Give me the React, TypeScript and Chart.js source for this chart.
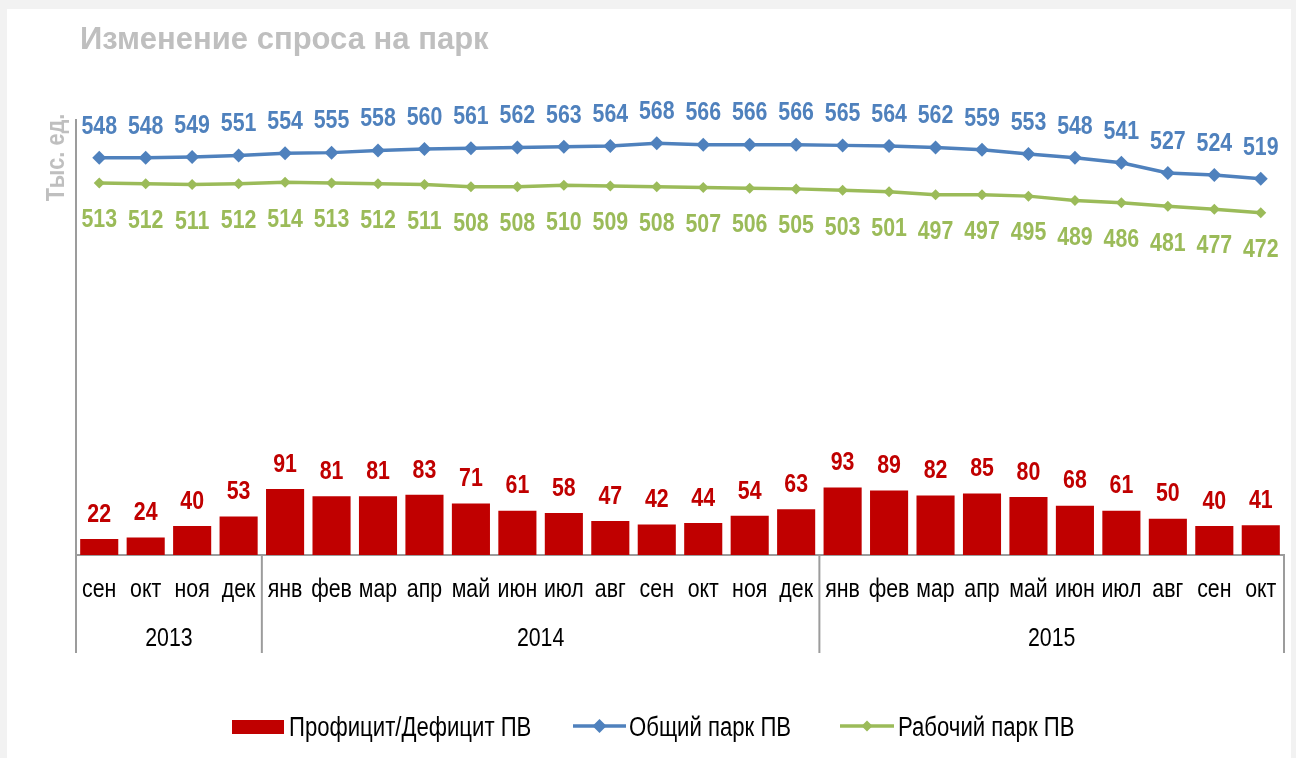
import React, { useEffect, useRef } from "react";
import { Chart, registerables } from "chart.js";

Chart.register(...registerables);

// ---------- data ----------
const months = [
  "сен", "окт", "ноя", "дек",
  "янв", "фев", "мар", "апр", "май", "июн", "июл", "авг", "сен", "окт", "ноя", "дек",
  "янв", "фев", "мар", "апр", "май", "июн", "июл", "авг", "сен", "окт",
];
const years = ["2013", "2014", "2015"];
const yearMonthCounts = [4, 12, 10];
const surplus = [22, 24, 40, 53, 91, 81, 81, 83, 71, 61, 58, 47, 42, 44, 54, 63, 93, 89, 82, 85, 80, 68, 61, 50, 40, 41];
const totalFleet = [548, 548, 549, 551, 554, 555, 558, 560, 561, 562, 563, 564, 568, 566, 566, 566, 565, 564, 562, 559, 553, 548, 541, 527, 524, 519];
const workingFleet = [513, 512, 511, 512, 514, 513, 512, 511, 508, 508, 510, 509, 508, 507, 506, 505, 503, 501, 497, 497, 495, 489, 486, 481, 477, 472];
const seriesNames = ["Профицит/Дефицит ПВ", "Общий парк ПВ", "Рабочий парк ПВ"];
const titleText = "Изменение спроса на парк";
const yAxisLabel = "Тыс. ед.";
const yMin = 0;
const yMax = 600;

// ---------- styles ----------
const SANS = "'Liberation Sans', Arial, sans-serif";
const NARROW_SCALE = 0.82;
const RED = "#C00000";
const BLUE = "#4F81BD";
const GREEN = "#9BBB59";
const AXIS = "#9C9C9C";
const TITLE_GREY = "#BFBFBF";

const W = 1296;
const H = 758;

// draws text in an Arial-Narrow-like face (Liberation Sans condensed horizontally)
function ntext(
  ctx: CanvasRenderingContext2D,
  str: string,
  x: number,
  y: number,
  size: number,
  bold: boolean,
  align: CanvasTextAlign,
  color: string
) {
  ctx.save();
  ctx.translate(x, y);
  ctx.scale(NARROW_SCALE, 1);
  ctx.font = `${bold ? "bold " : ""}${size}px ${SANS}`;
  ctx.textAlign = align;
  ctx.textBaseline = "alphabetic";
  ctx.fillStyle = color;
  ctx.fillText(str, 0, 0);
  ctx.restore();
}

const bgPlugin = {
  id: "bgPanel",
  beforeDraw(chart: any) {
    const ctx = chart.ctx;
    ctx.save();
    ctx.fillStyle = "#F2F2F2";
    ctx.fillRect(0, 0, W, H);
    ctx.fillStyle = "#FFFFFF";
    ctx.fillRect(7, 9, 1284, H - 9);
    ctx.restore();
  },
};

function drawDiamond(ctx: CanvasRenderingContext2D, x: number, y: number, r: number, color: string) {
  ctx.beginPath();
  ctx.moveTo(x, y - r);
  ctx.lineTo(x + r, y);
  ctx.lineTo(x, y + r);
  ctx.lineTo(x - r, y);
  ctx.closePath();
  ctx.fillStyle = color;
  ctx.fill();
}

const decorPlugin = {
  id: "decor",
  afterDraw(chart: any) {
    const ctx: CanvasRenderingContext2D = chart.ctx;
    const area = chart.chartArea;
    const xs = chart.scales.x;
    ctx.save();

    // data labels
    const capHalf = 26 * 0.358;
    const specs = [
      { idx: 0, color: RED, dy: -26.6 },
      { idx: 1, color: BLUE, dy: -33.5 },
      { idx: 2, color: GREEN, dy: 35 },
    ];
    specs.forEach((s) => {
      const meta = chart.getDatasetMeta(s.idx);
      const data = chart.data.datasets[s.idx].data as number[];
      meta.data.forEach((el: any, i: number) => {
        ntext(ctx, String(data[i]), el.x, el.y + s.dy + capHalf, 26, true, "center", s.color);
      });
    });

    // month labels (category axis, level 1)
    months.forEach((m, i) => {
      ntext(ctx, m, xs.getPixelForValue(i), 597, 26, false, "center", "#000");
    });

    // multi-level category separators and years
    const n = months.length;
    const bottom = 653;
    ctx.strokeStyle = AXIS;
    ctx.lineWidth = 2;
    let start = 0;
    const bounds: number[] = [area.left];
    yearMonthCounts.forEach((c) => {
      start += c;
      const bx = start >= n ? area.right : (xs.getPixelForValue(start - 1) + xs.getPixelForValue(start)) / 2;
      bounds.push(bx);
    });
    bounds.forEach((bx) => {
      ctx.beginPath();
      ctx.moveTo(bx, area.bottom);
      ctx.lineTo(bx, bottom);
      ctx.stroke();
    });
    years.forEach((y, i) => {
      ntext(ctx, y, (bounds[i] + bounds[i + 1]) / 2, 646, 26, false, "center", "#000");
    });

    // title
    ctx.textAlign = "left";
    ctx.textBaseline = "alphabetic";
    ctx.fillStyle = TITLE_GREY;
    ctx.font = `bold 31px ${SANS}`;
    ctx.fillText(titleText, 80, 49);

    // y axis label (rotated)
    ctx.save();
    ctx.translate(64, 157.5);
    ctx.rotate(-Math.PI / 2);
    ntext(ctx, yAxisLabel, 0, 0, 26.5, true, "center", TITLE_GREY);
    ctx.restore();

    // legend
    const legY = 726;
    const legBase = 736;
    const legSize = 27;
    ctx.fillStyle = RED;
    ctx.fillRect(232, 720, 52, 14);
    ntext(ctx, seriesNames[0], 289, legBase, legSize, false, "left", "#000");

    ctx.strokeStyle = BLUE;
    ctx.lineWidth = 3.5;
    ctx.beginPath();
    ctx.moveTo(573, legY);
    ctx.lineTo(626, legY);
    ctx.stroke();
    drawDiamond(ctx, 599.5, legY, 7, BLUE);
    ntext(ctx, seriesNames[1], 629, legBase, legSize, false, "left", "#000");

    ctx.strokeStyle = GREEN;
    ctx.beginPath();
    ctx.moveTo(840, legY);
    ctx.lineTo(894, legY);
    ctx.stroke();
    drawDiamond(ctx, 867, legY, 5.5, GREEN);
    ntext(ctx, seriesNames[2], 898, legBase, legSize, false, "left", "#000");

    ctx.restore();
  },
};

export default function App() {
  const ref = useRef<HTMLCanvasElement>(null);
  useEffect(() => {
    const canvas = ref.current;
    if (!canvas) return;
    const chart = new Chart(canvas, {
      type: "bar",
      data: {
        labels: months,
        datasets: [
          {
            type: "bar",
            label: seriesNames[0],
            data: surplus,
            backgroundColor: RED,
            barPercentage: 0.82,
            categoryPercentage: 1,
            order: 3,
          },
          {
            type: "line",
            label: seriesNames[1],
            data: totalFleet,
            borderColor: BLUE,
            backgroundColor: BLUE,
            borderWidth: 3.5,
            pointStyle: "rectRot",
            pointRadius: 7,
            pointBackgroundColor: BLUE,
            pointBorderWidth: 0,
            tension: 0,
            order: 1,
          },
          {
            type: "line",
            label: seriesNames[2],
            data: workingFleet,
            borderColor: GREEN,
            backgroundColor: GREEN,
            borderWidth: 3.5,
            pointStyle: "rectRot",
            pointRadius: 5.5,
            pointBackgroundColor: GREEN,
            pointBorderWidth: 0,
            tension: 0,
            order: 2,
          },
        ],
      } as any,
      options: {
        responsive: false,
        animation: false,
        devicePixelRatio: 1,
        layout: { padding: { left: 76, right: 12, top: 120, bottom: 3 } },
        plugins: {
          legend: { display: false },
          title: { display: false },
          tooltip: { enabled: false },
        },
        scales: {
          x: {
            grid: { display: false, drawTicks: false },
            border: { display: true, color: AXIS, width: 2 },
            ticks: { display: false },
            afterFit: (s: any) => {
              s.height = 200;
            },
          },
          y: {
            min: yMin,
            max: yMax,
            grid: { display: false, drawTicks: false },
            border: { display: true, color: AXIS, width: 2 },
            ticks: { display: false },
            afterFit: (s: any) => {
              s.width = 0;
            },
          },
        },
      } as any,
      plugins: [bgPlugin, decorPlugin],
    });
    return () => chart.destroy();
  }, []);

  return (
    <div style={{ position: "absolute", left: 0, top: 0, width: W, height: H }}>
      <canvas ref={ref} width={W} height={H} style={{ width: W, height: H, display: "block" }} />
    </div>
  );
}
